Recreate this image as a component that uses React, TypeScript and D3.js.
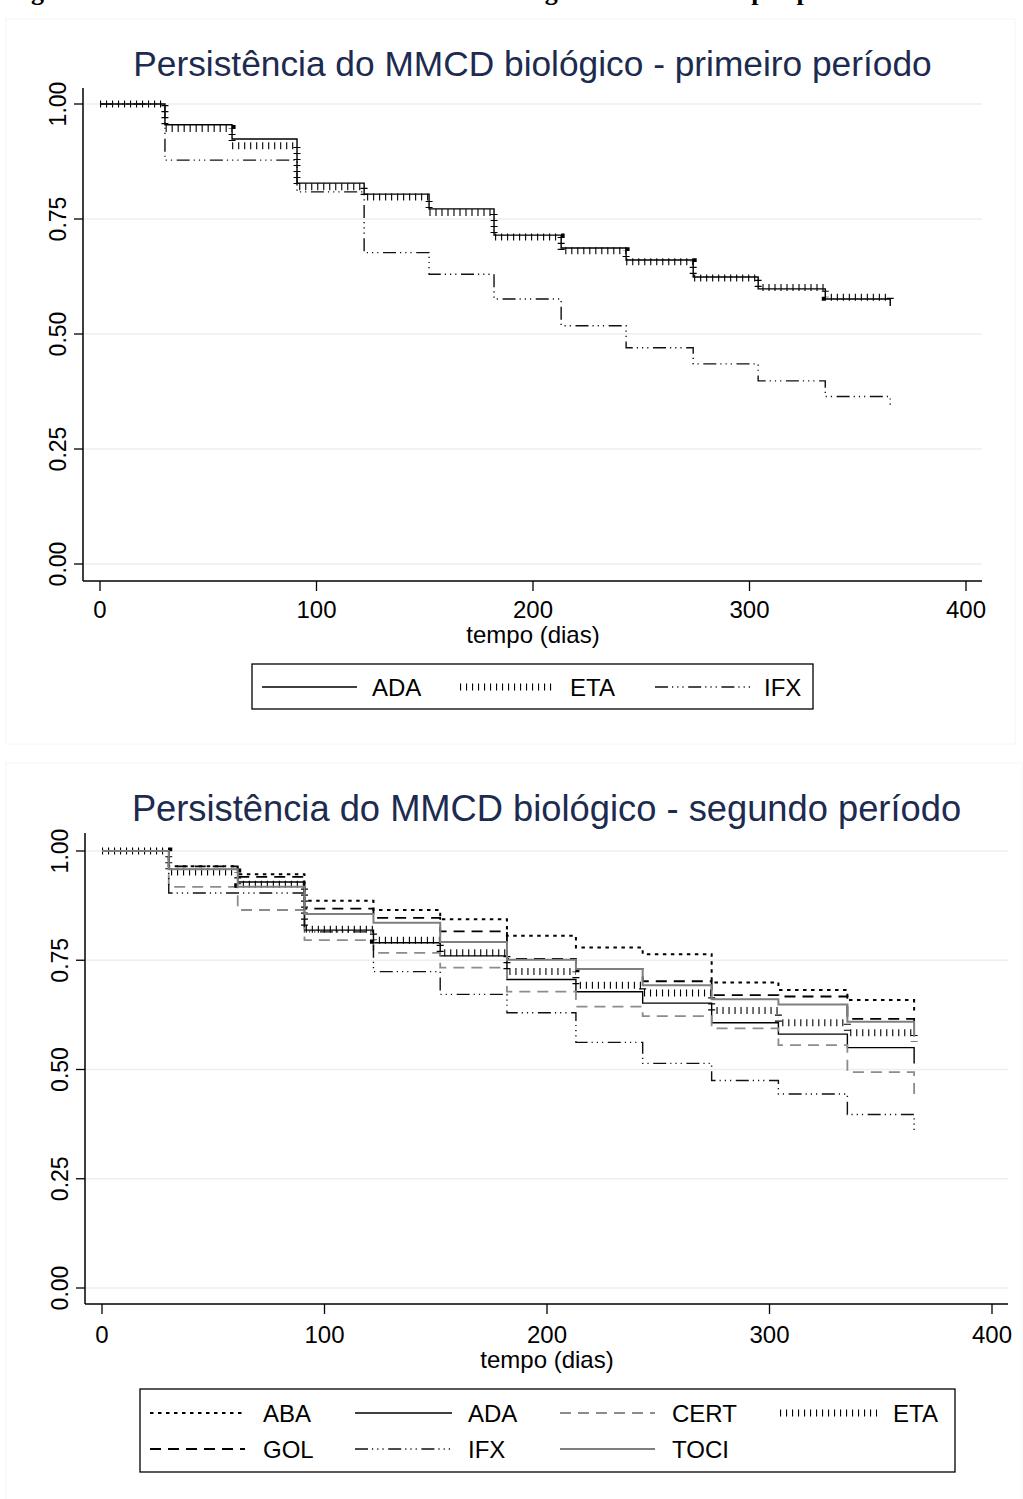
import React from 'react';
import * as d3 from 'd3';

// days at which the curves step (monthly visits)
const times = [0, 30, 61, 91, 122, 152, 182, 213, 243, 274, 304, 335, 365];

// first period
const p1ADA = [1, 0.955, 0.924, 0.828, 0.804, 0.772, 0.715, 0.687, 0.661, 0.624, 0.598, 0.576, 0.561];
const p1ETA = [1, 0.947, 0.909, 0.82, 0.798, 0.764, 0.711, 0.681, 0.657, 0.622, 0.601, 0.58, 0.567];
const p1IFX = [1, 0.878, 0.878, 0.809, 0.677, 0.63, 0.576, 0.518, 0.47, 0.435, 0.398, 0.364, 0.346];

// second period
const p2ABA = [1, 0.965, 0.947, 0.886, 0.865, 0.844, 0.806, 0.779, 0.764, 0.699, 0.682, 0.659, 0.625];
const p2ADA = [1, 0.958, 0.929, 0.819, 0.79, 0.76, 0.706, 0.678, 0.652, 0.607, 0.581, 0.55, 0.514];
const p2CERT = [1, 0.918, 0.865, 0.796, 0.767, 0.733, 0.678, 0.644, 0.622, 0.594, 0.556, 0.494, 0.428];
const p2ETA = [1, 0.952, 0.924, 0.821, 0.796, 0.767, 0.724, 0.693, 0.675, 0.635, 0.607, 0.584, 0.564];
const p2GOL = [1, 0.965, 0.941, 0.868, 0.847, 0.816, 0.753, 0.73, 0.702, 0.67, 0.667, 0.616, 0.61];
const p2IFX = [1, 0.904, 0.904, 0.815, 0.724, 0.672, 0.63, 0.562, 0.514, 0.475, 0.444, 0.397, 0.358];
const p2TOCI = [1, 0.958, 0.918, 0.856, 0.836, 0.792, 0.751, 0.73, 0.693, 0.661, 0.649, 0.609, 0.575];

const xTicks = [0, 100, 200, 300, 400];
const yTicks = [0, 0.25, 0.5, 0.75, 1];

const FONT = '"Liberation Sans", Arial, sans-serif';

const lineStyle: any = {
  ABA: { stroke: '#000', width: 2, dash: '3.5 4.5' },
  ADA: { stroke: '#000', width: 1.4, dash: null },
  CERT: { stroke: '#8c8c8c', width: 1.8, dash: '11 7' },
  ETA: { stroke: '#000', width: 7, dash: '1.1 4.9' },
  GOL: { stroke: '#000', width: 1.8, dash: '11 7' },
  IFX: { stroke: '#111', width: 1.4, dash: '13 4 1.2 4 1.2 4 1.2 4.6' },
  TOCI: { stroke: '#7f7f7f', width: 2, dash: null },
};

function KMPanel(props: any) {
  const { frame, plot, xr, yr, title, titleY, titleSize, tickY, axisTitleY, series, legend } = props;
  const x = d3.scaleLinear().domain([0, 400]).range(xr);
  const y = d3.scaleLinear().domain([0, 1]).range(yr);
  const line = d3
    .line<number>()
    .x((_, i) => x(times[i]))
    .y((d) => y(d))
    .curve(d3.curveStepAfter);

  return (
    <g>
      <rect x={frame[0]} y={frame[1]} width={frame[2] - frame[0]} height={frame[3] - frame[1]}
        fill="#fff" stroke="#f6f6f6" strokeWidth={1} />
      <text x={(plot.left + plot.right) / 2} y={titleY} textAnchor="middle"
        fontFamily={FONT} fontSize={titleSize} fill="#1c2b4f">{title}</text>

      {/* grid */}
      {yTicks.map((t) => (
        <line key={'g' + t} x1={plot.left + 1} x2={plot.right} y1={y(t)} y2={y(t)}
          stroke="#e8f0f2" strokeWidth={1.6} />
      ))}

      {/* curves */}
      {series.map((s: any) => {
        const st = lineStyle[s.name];
        return (
          <path key={s.name} d={line(s.values) || ''} fill="none" stroke={st.stroke}
            strokeWidth={st.width} strokeDasharray={st.dash || undefined} />
        );
      })}

      {/* y axis */}
      <line x1={plot.left} x2={plot.left} y1={plot.top} y2={plot.bottom} stroke="#000" strokeWidth={1.5} />
      {yTicks.map((t) => (
        <g key={'y' + t}>
          <line x1={plot.left - 9} x2={plot.left} y1={y(t)} y2={y(t)} stroke="#000" strokeWidth={1.3} />
          <text transform={`translate(${plot.left - 17},${y(t)}) rotate(-90)`} textAnchor="middle"
            fontFamily={FONT} fontSize={23} fill="#000">{d3.format('.2f')(t)}</text>
        </g>
      ))}

      {/* x axis */}
      <line x1={plot.left} x2={plot.right} y1={plot.bottom} y2={plot.bottom} stroke="#000" strokeWidth={1.5} />
      {xTicks.map((t) => (
        <g key={'x' + t}>
          <line x1={x(t)} x2={x(t)} y1={plot.bottom} y2={plot.bottom + 10} stroke="#000" strokeWidth={1.3} />
          <text x={x(t)} y={tickY} textAnchor="middle" fontFamily={FONT} fontSize={24} fill="#000">{t}</text>
        </g>
      ))}
      <text x={x(200)} y={axisTitleY} textAnchor="middle" fontFamily={FONT} fontSize={24} fill="#000">
        tempo (dias)
      </text>

      {/* legend */}
      <rect x={legend.box[0]} y={legend.box[1]} width={legend.box[2] - legend.box[0]}
        height={legend.box[3] - legend.box[1]} fill="#fff" stroke="#000" strokeWidth={1.3} />
      {legend.items.map((it: any) => {
        const st = lineStyle[it.name];
        return (
          <g key={'l' + it.name}>
            <line x1={it.x1} x2={it.x2} y1={it.y} y2={it.y} stroke={st.stroke}
              strokeWidth={st.width} strokeDasharray={st.dash || undefined} />
            <text x={it.lx} y={it.y + 8.5} fontFamily={FONT} fontSize={24} fill="#000">{it.name}</text>
          </g>
        );
      })}
    </g>
  );
}

export default function App() {
  const cols = [
    { x1: 150, x2: 245, lx: 263 },
    { x1: 355, x2: 452, lx: 468 },
    { x1: 560, x2: 655, lx: 672 },
    { x1: 780, x2: 877, lx: 893 },
  ];
  const names2 = ['ABA', 'ADA', 'CERT', 'ETA', 'GOL', 'IFX', 'TOCI'];
  const values2 = [p2ABA, p2ADA, p2CERT, p2ETA, p2GOL, p2IFX, p2TOCI];

  return (
    <svg width={1023} height={1499} style={{ position: 'absolute', left: 0, top: 0, display: 'block', background: '#fff' }}>
      <text x={8} y={0} fontFamily='"Liberation Serif", serif' fontWeight="bold" fontSize={26} fill="#000">
        Figura 4 – Curvas de sobrevida do MMCD biológico estratificadas por período
      </text>

      <KMPanel
        frame={[6, 19, 1015, 744]}
        plot={{ left: 83, right: 982, top: 88, bottom: 581 }}
        xr={[100, 966]}
        yr={[564, 104]}
        title="Persistência do MMCD biológico - primeiro período"
        titleY={76}
        titleSize={35.3}
        tickY={618}
        axisTitleY={643}
        series={[
          { name: 'ADA', values: p1ADA },
          { name: 'ETA', values: p1ETA },
          { name: 'IFX', values: p1IFX },
        ]}
        legend={{
          box: [252, 664, 813, 709],
          items: [
            { name: 'ADA', x1: 262, x2: 357, lx: 372, y: 687 },
            { name: 'ETA', x1: 460, x2: 555, lx: 570, y: 687 },
            { name: 'IFX', x1: 655, x2: 750, lx: 764, y: 687 },
          ],
        }}
      />

      <KMPanel
        frame={[6, 763, 1022, 1510]}
        plot={{ left: 85, right: 1008, top: 833, bottom: 1304 }}
        xr={[102, 992]}
        yr={[1288, 851]}
        title="Persistência do MMCD biológico - segundo período"
        titleY={821}
        titleSize={36.3}
        tickY={1343}
        axisTitleY={1368}
        series={names2.map((n, i) => ({ name: n, values: values2[i] }))}
        legend={{
          box: [140, 1389, 955, 1472],
          items: names2.map((n, i) => ({
            name: n,
            ...cols[i % 4],
            y: i < 4 ? 1413 : 1449,
          })),
        }}
      />
    </svg>
  );
}
